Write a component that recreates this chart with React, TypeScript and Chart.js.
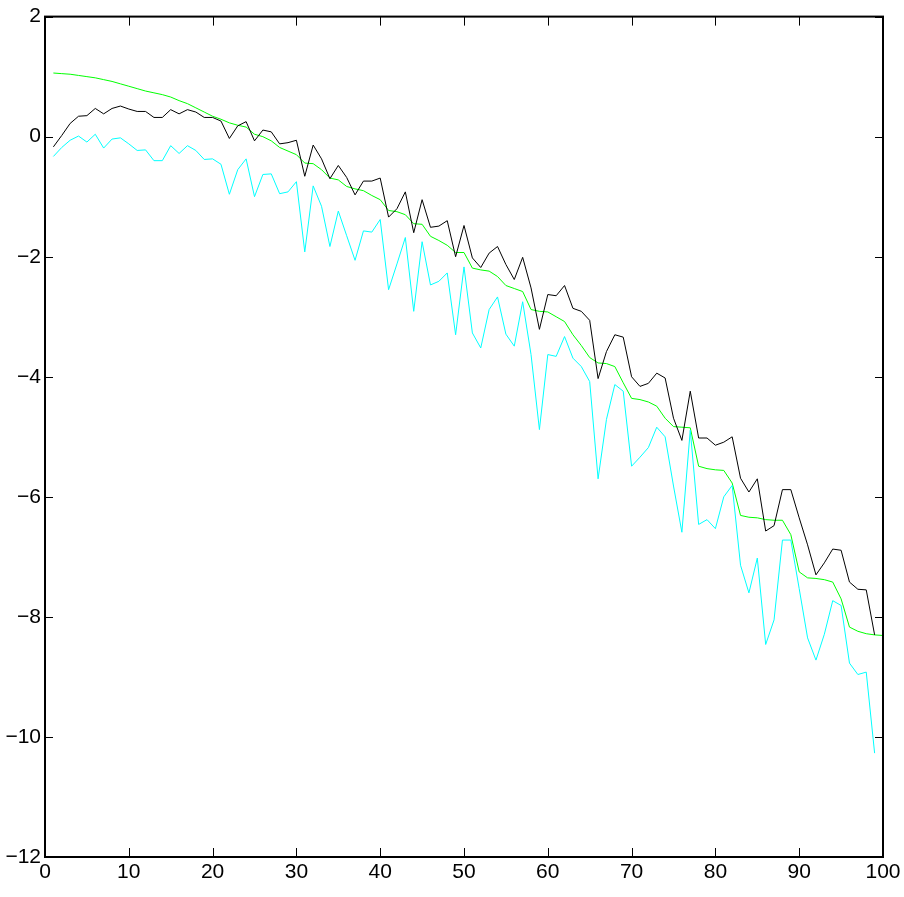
import React, { useEffect, useRef } from "react";
import { Chart, registerables } from "chart.js";

Chart.register(...registerables);

const xTicks = [0, 10, 20, 30, 40, 50, 60, 70, 80, 90, 100];
const yTicks = [-12, -10, -8, -6, -4, -2, 0, 2];

const blackSeries = [
  -0.17, 0.02, 0.22, 0.34, 0.35, 0.47, 0.38, 0.47, 0.51, 0.46,
  0.42, 0.42, 0.32, 0.32, 0.45, 0.38, 0.45, 0.41, 0.32, 0.32,
  0.26, -0.03, 0.18, 0.25, -0.07, 0.11, 0.08, -0.12, -0.10, -0.06,
  -0.66, -0.14, -0.37, -0.70, -0.48, -0.68, -0.97, -0.74, -0.74, -0.69,
  -1.34, -1.20, -0.92, -1.60, -1.05, -1.51, -1.49, -1.40, -2.00, -1.48,
  -2.02, -2.18, -1.94, -1.83, -2.13, -2.38, -2.01, -2.52, -3.21, -2.63,
  -2.65, -2.48, -2.86, -2.91, -3.06, -4.03, -3.58, -3.30, -3.34, -4.00,
  -4.16, -4.11, -3.94, -4.02, -4.69, -5.06, -4.24, -5.02, -5.02, -5.14,
  -5.09, -5.00, -5.69, -5.92, -5.70, -6.57, -6.48, -5.88, -5.88, -6.35,
  -6.80, -7.30, -7.10, -6.87, -6.89, -7.42, -7.54, -7.55, -8.30,
];

const cyanSeries = [
  -0.33, -0.18, -0.06, 0.01, -0.09, 0.04, -0.19, -0.04, -0.02, -0.12,
  -0.23, -0.22, -0.40, -0.40, -0.15, -0.28, -0.15, -0.23, -0.38, -0.37,
  -0.46, -0.96, -0.55, -0.37, -1.00, -0.63, -0.62, -0.95, -0.92, -0.75,
  -1.92, -0.82, -1.16, -1.83, -1.24, -1.65, -2.06, -1.57, -1.59, -1.38,
  -2.55, -2.12, -1.68, -2.91, -1.75, -2.47, -2.41, -2.27, -3.30, -2.17,
  -3.27, -3.52, -2.88, -2.67, -3.29, -3.49, -2.75, -3.63, -4.88, -3.63,
  -3.66, -3.33, -3.69, -3.83, -4.08, -5.70, -4.71, -4.13, -4.24, -5.49,
  -5.34, -5.18, -4.84, -5.00, -5.82, -6.59, -4.89, -6.46, -6.38, -6.53,
  -6.00, -5.81, -7.14, -7.60, -7.02, -8.46, -8.05, -6.72, -6.72, -7.53,
  -8.35, -8.72, -8.29, -7.73, -7.81, -8.77, -8.96, -8.92, -10.27,
];

const greenSeries = [
  1.06, 1.05, 1.04, 1.02, 1.00, 0.98, 0.95, 0.92, 0.88, 0.84,
  0.80, 0.76, 0.73, 0.70, 0.66, 0.60, 0.55, 0.48, 0.41, 0.34,
  0.29, 0.23, 0.19, 0.16, 0.04, 0.00, -0.07, -0.18, -0.24, -0.30,
  -0.44, -0.45, -0.55, -0.69, -0.72, -0.83, -0.87, -0.90, -0.98, -1.05,
  -1.23, -1.25, -1.30, -1.45, -1.46, -1.66, -1.73, -1.81, -1.93, -1.93,
  -2.19, -2.22, -2.24, -2.33, -2.48, -2.53, -2.58, -2.88, -2.91, -2.92,
  -3.00, -3.08, -3.30, -3.48, -3.68, -3.77, -3.78, -3.83, -4.10, -4.36,
  -4.38, -4.42, -4.49, -4.69, -4.83, -4.84, -4.85, -5.49, -5.53, -5.55,
  -5.56, -5.77, -6.31, -6.34, -6.35, -6.38, -6.39, -6.39, -6.63, -7.25,
  -7.35, -7.36, -7.38, -7.42, -7.70, -8.17, -8.24, -8.28, -8.30, -8.31,
];

const toPoints = (arr: number[]) => arr.map((v, i) => ({ x: i + 1, y: v }));

const FONT_FAMILY = "'Liberation Sans Narrow', 'Liberation Sans', Arial, sans-serif";

const boxPlugin = {
  id: "matlabBox",
  afterDraw(chart: any) {
    const { ctx, chartArea } = chart;
    const { left, right, top, bottom } = chartArea;
    const xs = chart.scales.x;
    const ys = chart.scales.y;
    ctx.save();
    ctx.strokeStyle = "#000";
    ctx.lineWidth = 1;
    ctx.beginPath();
    for (const v of yTicks) {
      const py = Math.round(ys.getPixelForValue(v)) + 0.5;
      ctx.moveTo(left, py);
      ctx.lineTo(left + 8, py);
      ctx.moveTo(right, py);
      ctx.lineTo(right - 8, py);
    }
    for (const v of xTicks) {
      const px = Math.round(xs.getPixelForValue(v)) + 0.5;
      ctx.moveTo(px, bottom);
      ctx.lineTo(px, bottom - 9);
      ctx.moveTo(px, top);
      ctx.lineTo(px, top + 9);
    }
    ctx.stroke();
    ctx.lineWidth = 2;
    ctx.strokeRect(left, top, right - left, bottom - top);
    ctx.restore();
  },
};

export default function App() {
  const canvasRef = useRef<HTMLCanvasElement | null>(null);

  useEffect(() => {
    if (!canvasRef.current) return;
    const chart = new Chart(canvasRef.current, {
      type: "line",
      data: {
        datasets: [
          {
            data: toPoints(blackSeries),
            borderColor: "#000000",
            borderWidth: 1,
            pointRadius: 0,
            tension: 0,
            fill: false,
          },
          {
            data: toPoints(cyanSeries),
            borderColor: "#00ffff",
            borderWidth: 1,
            pointRadius: 0,
            tension: 0,
            fill: false,
          },
          {
            data: toPoints(greenSeries),
            borderColor: "#00ff00",
            borderWidth: 1,
            pointRadius: 0,
            tension: 0,
            fill: false,
          },
        ],
      },
      options: {
        responsive: false,
        animation: false,
        layout: { padding: { top: 15, right: 21, left: 0, bottom: 0 } },
        plugins: {
          legend: { display: false },
          tooltip: { enabled: false },
        },
        scales: {
          x: {
            type: "linear",
            min: 0,
            max: 100,
            afterFit: (s: any) => {
              s.height = 40;
            },
            afterBuildTicks: (s: any) => {
              s.ticks = xTicks.map((v) => ({ value: v }));
            },
            grid: { display: false, drawTicks: false },
            border: { display: false },
            ticks: {
              padding: 3,
              color: "#000",
              maxRotation: 0,
              font: { family: FONT_FAMILY, size: 21 },
              callback: (v: any) => String(v),
            },
          },
          y: {
            type: "linear",
            min: -12,
            max: 2,
            afterFit: (s: any) => {
              s.width = 45;
            },
            afterBuildTicks: (s: any) => {
              s.ticks = yTicks.map((v) => ({ value: v }));
            },
            grid: { display: false, drawTicks: false },
            border: { display: false },
            ticks: {
              padding: 4,
              color: "#000",
              font: { family: FONT_FAMILY, size: 21 },
              callback: (v: any) => (Number(v) < 0 ? "\u2212" + Math.abs(Number(v)) : String(v)),
            },
          },
        },
      },
      plugins: [boxPlugin],
    });
    return () => chart.destroy();
  }, []);

  return (
    <div style={{ position: "absolute", left: 0, top: 0, width: 904, height: 897, background: "#fff" }}>
      <canvas ref={canvasRef} width={904} height={897} style={{ display: "block" }} />
    </div>
  );
}
